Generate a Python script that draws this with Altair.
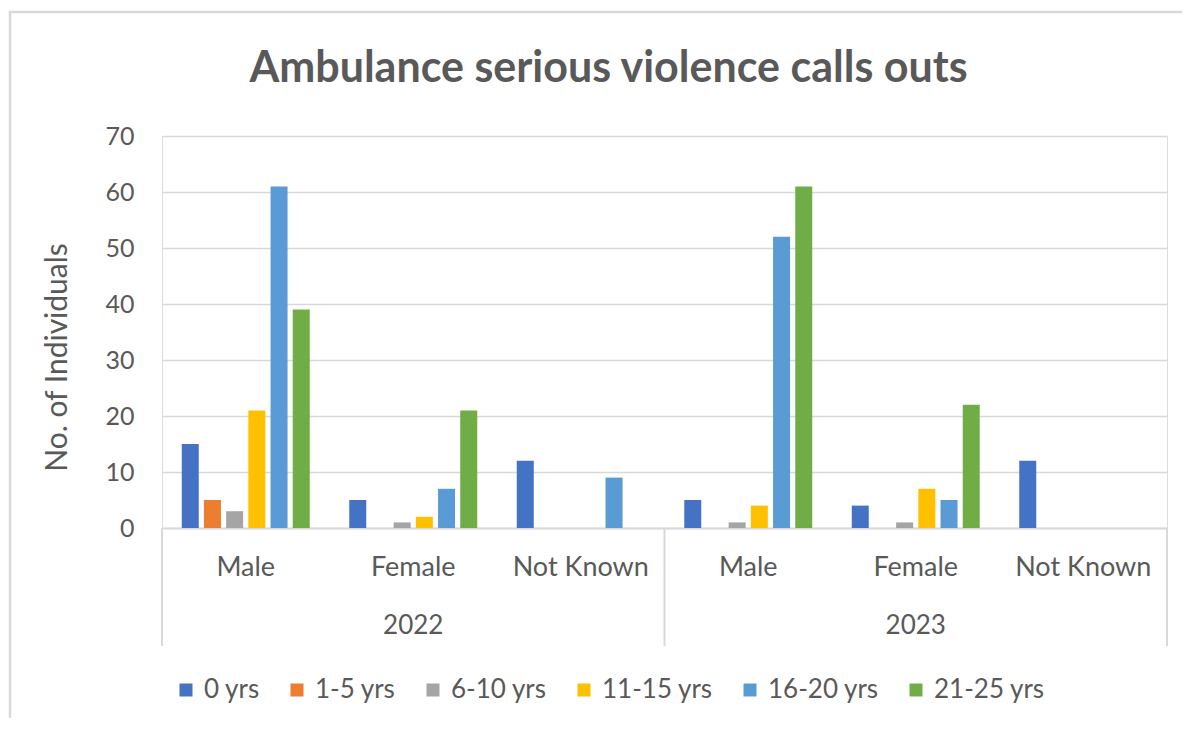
import altair as alt
import pandas as pd

years = ["2022", "2023"]
genders = ["Male", "Female", "Not Known"]
ages = ["0 yrs", "1-5 yrs", "6-10 yrs", "11-15 yrs", "16-20 yrs", "21-25 yrs"]
colors = ["#4472C4", "#ED7D31", "#A5A5A5", "#FFC000", "#5B9BD5", "#70AD47"]

vals_2022_male = [15, 5, 3, 21, 61, 39]
vals_2022_female = [5, 0, 1, 2, 7, 21]
vals_2022_unknown = [12, 0, 0, 0, 9, 0]
vals_2023_male = [5, 0, 1, 4, 52, 61]
vals_2023_female = [4, 0, 1, 7, 5, 22]
vals_2023_unknown = [12, 0, 0, 0, 0, 0]

series = {
    ("2022", "Male"): vals_2022_male,
    ("2022", "Female"): vals_2022_female,
    ("2022", "Not Known"): vals_2022_unknown,
    ("2023", "Male"): vals_2023_male,
    ("2023", "Female"): vals_2023_female,
    ("2023", "Not Known"): vals_2023_unknown,
}

keys = [f"{y}|{g}" for y in years for g in genders]
rows = []
for (y, g), vals in series.items():
    for a, v in zip(ages, vals):
        rows.append({"key": f"{y}|{g}", "age": a, "value": v})
df = pd.DataFrame(rows)

FONT = "Lato"
GREY = "#595959"
LINE = "#d9d9d9"

xscale = alt.Scale(domain=keys, paddingInner=0, paddingOuter=0)

bars = alt.Chart(df).mark_bar().encode(
    x=alt.X("key:N", scale=xscale, axis=alt.Axis(
        title=None, labelExpr="split(datum.value, '|')[1]", labelAngle=0,
        ticks=False, labelPadding=26, labelFontSize=27, labelColor=GREY,
        labelFont=FONT, domainColor=LINE, domainWidth=2, grid=False)),
    xOffset=alt.XOffset("age:N", sort=ages,
                        scale=alt.Scale(domain=ages, paddingInner=0.234, paddingOuter=0.89)),
    y=alt.Y("value:Q", scale=alt.Scale(domain=[0, 70]), axis=alt.Axis(
        values=list(range(0, 71, 10)), domain=False, ticks=False, labelPadding=28,
        labelFontSize=25, labelColor=GREY, labelFont=FONT, gridColor=LINE, gridWidth=1.5,
        title="No. of Individuals", titleFontSize=30, titleFontWeight="normal",
        titleColor=GREY, titleFont=FONT, titleAngle=270, titleAlign="center",
        titleBaseline="middle", titleX=-105, titleY=221)),
    color=alt.Color("age:N", sort=ages, scale=alt.Scale(domain=ages, range=colors),
                    legend=alt.Legend(orient="none", legendX=11, legendY=541,
                                      direction="horizontal", title=None,
                                      symbolType="square", symbolSize=169,
                                      symbolStrokeWidth=0, labelFontSize=26,
                                      labelColor=GREY, labelFont=FONT,
                                      columnPadding=24, labelOffset=5)),
)

year_df = pd.DataFrame({"key": [f"{y}|Female" for y in years], "year": years})
year_text = alt.Chart(year_df).mark_text(
    fontSize=26, color=GREY, font=FONT, baseline="middle"
).encode(x=alt.X("key:N", scale=xscale), y=alt.value(490), text="year:N")

sep_left = pd.DataFrame({"key": [f"{y}|Male" for y in years]})
sep_right = pd.DataFrame({"key": [keys[-1]]})
rule_l = alt.Chart(sep_left).mark_rule(color=LINE, strokeWidth=2).encode(
    x=alt.X("key:N", scale=xscale, bandPosition=0), y=alt.value(392), y2=alt.value(510))
rule_r = alt.Chart(sep_right).mark_rule(color=LINE, strokeWidth=2).encode(
    x=alt.X("key:N", scale=xscale, bandPosition=1), y=alt.value(392), y2=alt.value(510))

frame = alt.Chart(pd.DataFrame({"a": [0]})).mark_rect(
    fill="transparent", stroke=LINE, strokeWidth=2.5
).encode(x=alt.value(-152), x2=alt.value(1060), y=alt.value(-124), y2=alt.value(640))

chart = alt.layer(frame, bars, rule_l, rule_r, year_text).properties(
    width=1005, height=392,
    title=alt.TitleParams("Ambulance serious violence calls outs", fontSize=43,
                          font=FONT, fontWeight="bold", color=GREY, anchor="middle",
                          dx=-56, offset=-114, baseline="alphabetic"),
    autosize=alt.AutoSizeParams(type="none"),
    padding={"left": 154, "top": 128, "right": 15, "bottom": 190},
).configure_view(stroke=None).configure(background="white")

chart.save("out.html", embed_options={"renderer": "svg", "actions": False})
